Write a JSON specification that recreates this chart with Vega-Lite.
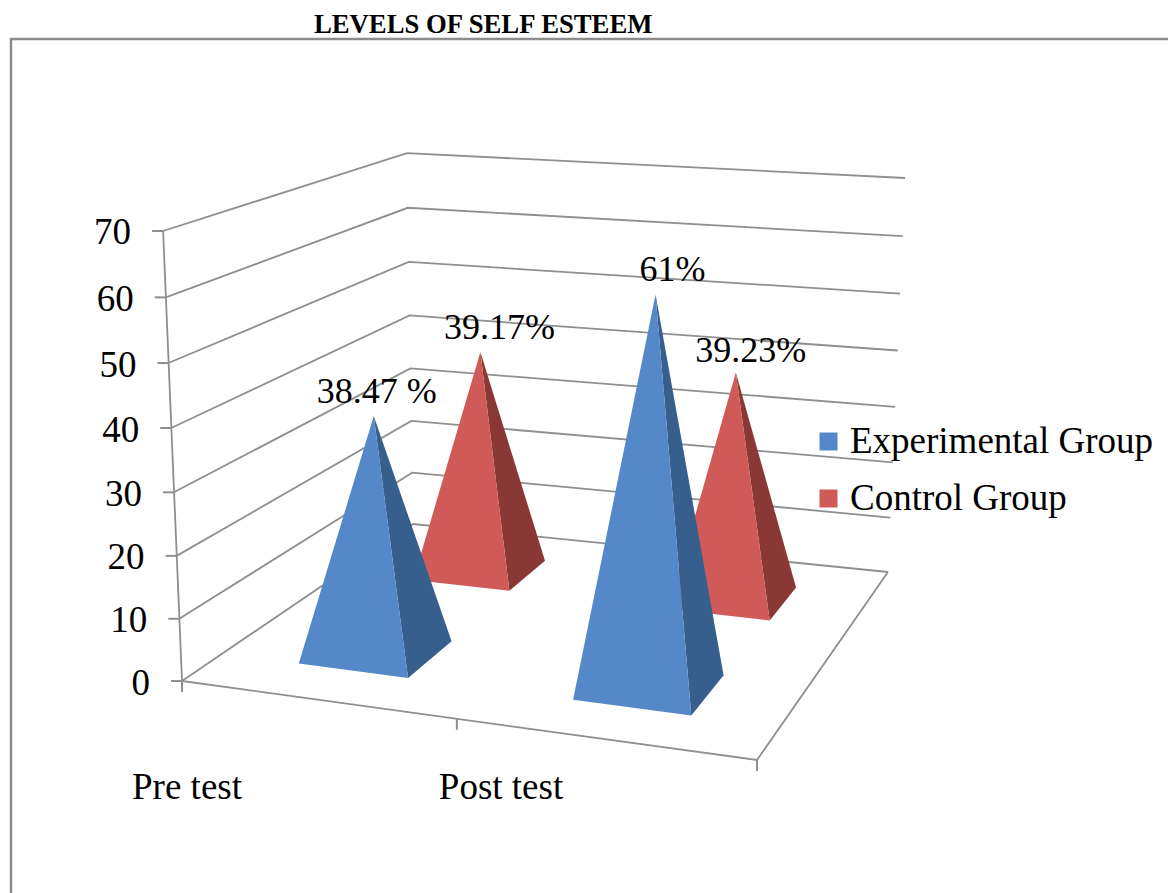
{
"$schema":"https://vega.github.io/schema/vega-lite/v6.json",
"width":1157,"height":854,
"autosize":{"type":"none"},
"padding":{"left":11,"top":39,"right":0,"bottom":0},
"background":"white",
"view":{"stroke":null,"fill":"white"},
"title":{"text":"LEVELS OF SELF ESTEEM","font":"Liberation Serif","fontSize":26.7,"fontWeight":"bold","anchor":"start","frame":"group","dx":303,"offset":-5,"color":"black"},
"datasets":{
"pyramids":[
{"test":"Pre test","group":"Control Group","value":39.17,"label":"39.17%"},
{"test":"Post test","group":"Control Group","value":39.23,"label":"39.23%"},
{"test":"Pre test","group":"Experimental Group","value":38.47,"label":"38.47 %"},
{"test":"Post test","group":"Experimental Group","value":61,"label":"61%"}
],
"levels":[{"level":0},{"level":10},{"level":20},{"level":30},{"level":40},{"level":50},{"level":60},{"level":70}],
"categories":[{"test":"Pre test"},{"test":"Post test"}]
},
"encoding":{
"x":{"field":"px","type":"quantitative","scale":{"domain":[11,1168],"nice":false,"zero":false},"axis":null},
"y":{"field":"py","type":"quantitative","scale":{"domain":[893,39],"nice":false,"zero":false},"axis":null}
},
"layer":[
{"data":{"values":[{"frame":"left"},{"frame":"top"}]},
"transform":[
{"calculate":"[{i:0,a:11,b:893},{i:1,a:11,b:39},{i:2,a:1168,b:39}]","as":"vtx"},{"flatten":["vtx"]},
{"filter":"datum.frame=='left'"},
{"calculate":"datum.vtx.a","as":"px"},{"calculate":"datum.vtx.b","as":"py"},{"calculate":"datum.vtx.i","as":"i"}
],
"mark":{"type":"line","color":"#8c8c8c","strokeWidth":2.5,"clip":false},
"encoding":{"order":{"field":"i"}}},
{"data":{"name":"levels"},
"transform":[
{"calculate":"[{i:0,u:0,v:0},{i:1,u:0,v:1},{i:2,u:1,v:1}]","as":"vtx"},{"flatten":["vtx"]},
{"calculate":"datum.vtx.u","as":"u"},{"calculate":"datum.vtx.v","as":"v"},{"calculate":"datum.vtx.i","as":"i"},
{"calculate":"(1-datum.v)*(182+575*datum.u)+datum.v*(413+475*datum.u)+datum.level*((1-datum.v)*(-0.27+0.47*datum.u)+datum.v*(-0.086+0.329*datum.u))","as":"px"},
{"calculate":"(1-datum.v)*(681+79*datum.u)+datum.v*(524+48*datum.u)-datum.level*(0.962+0.00054*datum.level)*((1-datum.v)*(6.43+0.48*datum.u)+datum.v*(5.3+0.33*datum.u))","as":"py"}
],
"mark":{"type":"line","color":"#8f8f8f","strokeWidth":1.8},
"encoding":{"detail":{"field":"level"},"order":{"field":"i"}}},
{"data":{"values":[{"edge":"floor"},{"edge":"wall"}]},
"transform":[
{"calculate":"datum.edge=='floor'?[{i:0,u:0,v:0,l:0},{i:1,u:1,v:0,l:0},{i:2,u:1,v:1,l:0}]:[{i:0,u:0,v:0,l:0},{i:1,u:0,v:0,l:70}]","as":"vtx"},{"flatten":["vtx"]},
{"calculate":"datum.vtx.u","as":"u"},{"calculate":"datum.vtx.v","as":"v"},{"calculate":"datum.vtx.i","as":"i"},{"calculate":"datum.vtx.l","as":"level"},
{"calculate":"(1-datum.v)*(182+575*datum.u)+datum.v*(413+475*datum.u)+datum.level*((1-datum.v)*(-0.27+0.47*datum.u)+datum.v*(-0.086+0.329*datum.u))","as":"px"},
{"calculate":"(1-datum.v)*(681+79*datum.u)+datum.v*(524+48*datum.u)-datum.level*(0.962+0.00054*datum.level)*((1-datum.v)*(6.43+0.48*datum.u)+datum.v*(5.3+0.33*datum.u))","as":"py"}
],
"mark":{"type":"line","color":"#8f8f8f","strokeWidth":1.8},
"encoding":{"detail":{"field":"edge"},"order":{"field":"i"}}},
{"data":{"name":"levels"},
"transform":[
{"calculate":"182+datum.level*(-0.27)","as":"px"},
{"calculate":"681-datum.level*(0.962+0.00054*datum.level)*6.43","as":"py"},
{"calculate":"datum.px-11","as":"px2"}
],
"mark":{"type":"rule","color":"#8f8f8f","strokeWidth":2},
"encoding":{"x2":{"field":"px2"}}},
{"data":{"values":[{"u":0},{"u":0.478},{"u":1}]},
"transform":[
{"calculate":"182+575*datum.u","as":"px"},
{"calculate":"681+79*datum.u","as":"py"},
{"calculate":"datum.py+11","as":"py2"}
],
"mark":{"type":"rule","color":"#8f8f8f","strokeWidth":2},
"encoding":{"y2":{"field":"py2"}}},
{"data":{"name":"levels"},
"transform":[
{"calculate":"182+datum.level*(-0.27)-32","as":"px"},
{"calculate":"681-datum.level*(0.962+0.00054*datum.level)*6.43+2.5","as":"py"}
],
"mark":{"type":"text","font":"Liberation Serif","fontSize":37,"align":"right","baseline":"middle","color":"black"},
"encoding":{"text":{"field":"level","type":"quantitative"}}},
{"data":{"name":"categories"},
"transform":[
{"calculate":"datum.test=='Pre test'?187:501","as":"px"},
{"calculate":"788","as":"py"}
],
"mark":{"type":"text","font":"Liberation Serif","fontSize":37,"align":"center","baseline":"middle","color":"black"},
"encoding":{"text":{"field":"test"}}},
{"data":{"name":"pyramids"},
"transform":[
{"calculate":"[{i:0,face:'side',su:1,sv:-1,t:0},{i:1,face:'side',su:1,sv:1,t:0},{i:2,face:'side',su:0,sv:0,t:1},{i:0,face:'front',su:-1,sv:-1,t:0},{i:1,face:'front',su:1,sv:-1,t:0},{i:2,face:'front',su:0,sv:0,t:1}]","as":"vtx"},{"flatten":["vtx"]},
{"calculate":"datum.vtx.i","as":"i"},{"calculate":"datum.vtx.face","as":"face"},
{"calculate":"datum.face=='front'?datum.group:datum.group+' side'","as":"shade"},
{"calculate":"(datum.test=='Pre test'?0.235:(datum.group=='Control Group'?0.745:0.735))+datum.vtx.su*(datum.group=='Control Group'?(datum.test=='Pre test'?0.095:0.1):(datum.test=='Pre test'?0.098:0.106))","as":"u"},
{"calculate":"(datum.group=='Control Group'?0.785:0.285)+datum.vtx.sv*(datum.group=='Control Group'?0.09:0.11)","as":"v"},
{"calculate":"datum.vtx.t*datum.value*1.008","as":"level"},
{"calculate":"(1-datum.v)*(182+575*datum.u)+datum.v*(413+475*datum.u)+datum.level*((1-datum.v)*(-0.27+0.47*datum.u)+datum.v*(-0.086+0.329*datum.u))+datum.vtx.t*(datum.test=='Pre test'?2:(datum.group=='Control Group'?-3:0))","as":"px"},
{"calculate":"(1-datum.v)*(681+79*datum.u)+datum.v*(524+48*datum.u)-datum.level*(0.962+0.00054*datum.level)*((1-datum.v)*(6.43+0.48*datum.u)+datum.v*(5.3+0.33*datum.u))","as":"py"},
{"calculate":"datum.test+datum.group+datum.face","as":"polygon"}
],
"mark":{"type":"line","filled":true,"strokeWidth":0},
"encoding":{
"detail":{"field":"polygon"},
"order":{"field":"i"},
"color":{"field":"shade","type":"nominal",
"scale":{"domain":["Experimental Group","Control Group","Experimental Group side","Control Group side"],"range":["#5588C9","#D05A57","#375F8E","#8A3836"]},
"legend":{"values":["Experimental Group","Control Group"],"title":null,"orient":"none","legendX":799,"legendY":384,"symbolType":"square","symbolSize":324,"symbolStrokeWidth":0,"labelFont":"Liberation Serif","labelFontSize":37,"labelColor":"black","labelLimit":400,"labelOffset":3,"rowPadding":19}}
}},
{"data":{"name":"pyramids"},
"transform":[
{"calculate":"datum.test=='Pre test'?0.235:(datum.group=='Control Group'?0.745:0.735)","as":"u"},
{"calculate":"datum.group=='Control Group'?0.785:0.285","as":"v"},
{"calculate":"datum.value*1.008","as":"level"},
{"calculate":"(1-datum.v)*(182+575*datum.u)+datum.v*(413+475*datum.u)+datum.level*((1-datum.v)*(-0.27+0.47*datum.u)+datum.v*(-0.086+0.329*datum.u))+(datum.label=='38.47 %'?5:datum.label=='39.17%'?21:datum.label=='61%'?17:12)","as":"px"},
{"calculate":"(1-datum.v)*(681+79*datum.u)+datum.v*(524+48*datum.u)-datum.level*(0.962+0.00054*datum.level)*((1-datum.v)*(6.43+0.48*datum.u)+datum.v*(5.3+0.33*datum.u))-(datum.label=='39.23%'?21:24)","as":"py"}
],
"mark":{"type":"text","font":"Liberation Serif","fontSize":36,"align":"center","baseline":"middle","color":"black"},
"encoding":{"text":{"field":"label"}}}
]
}
